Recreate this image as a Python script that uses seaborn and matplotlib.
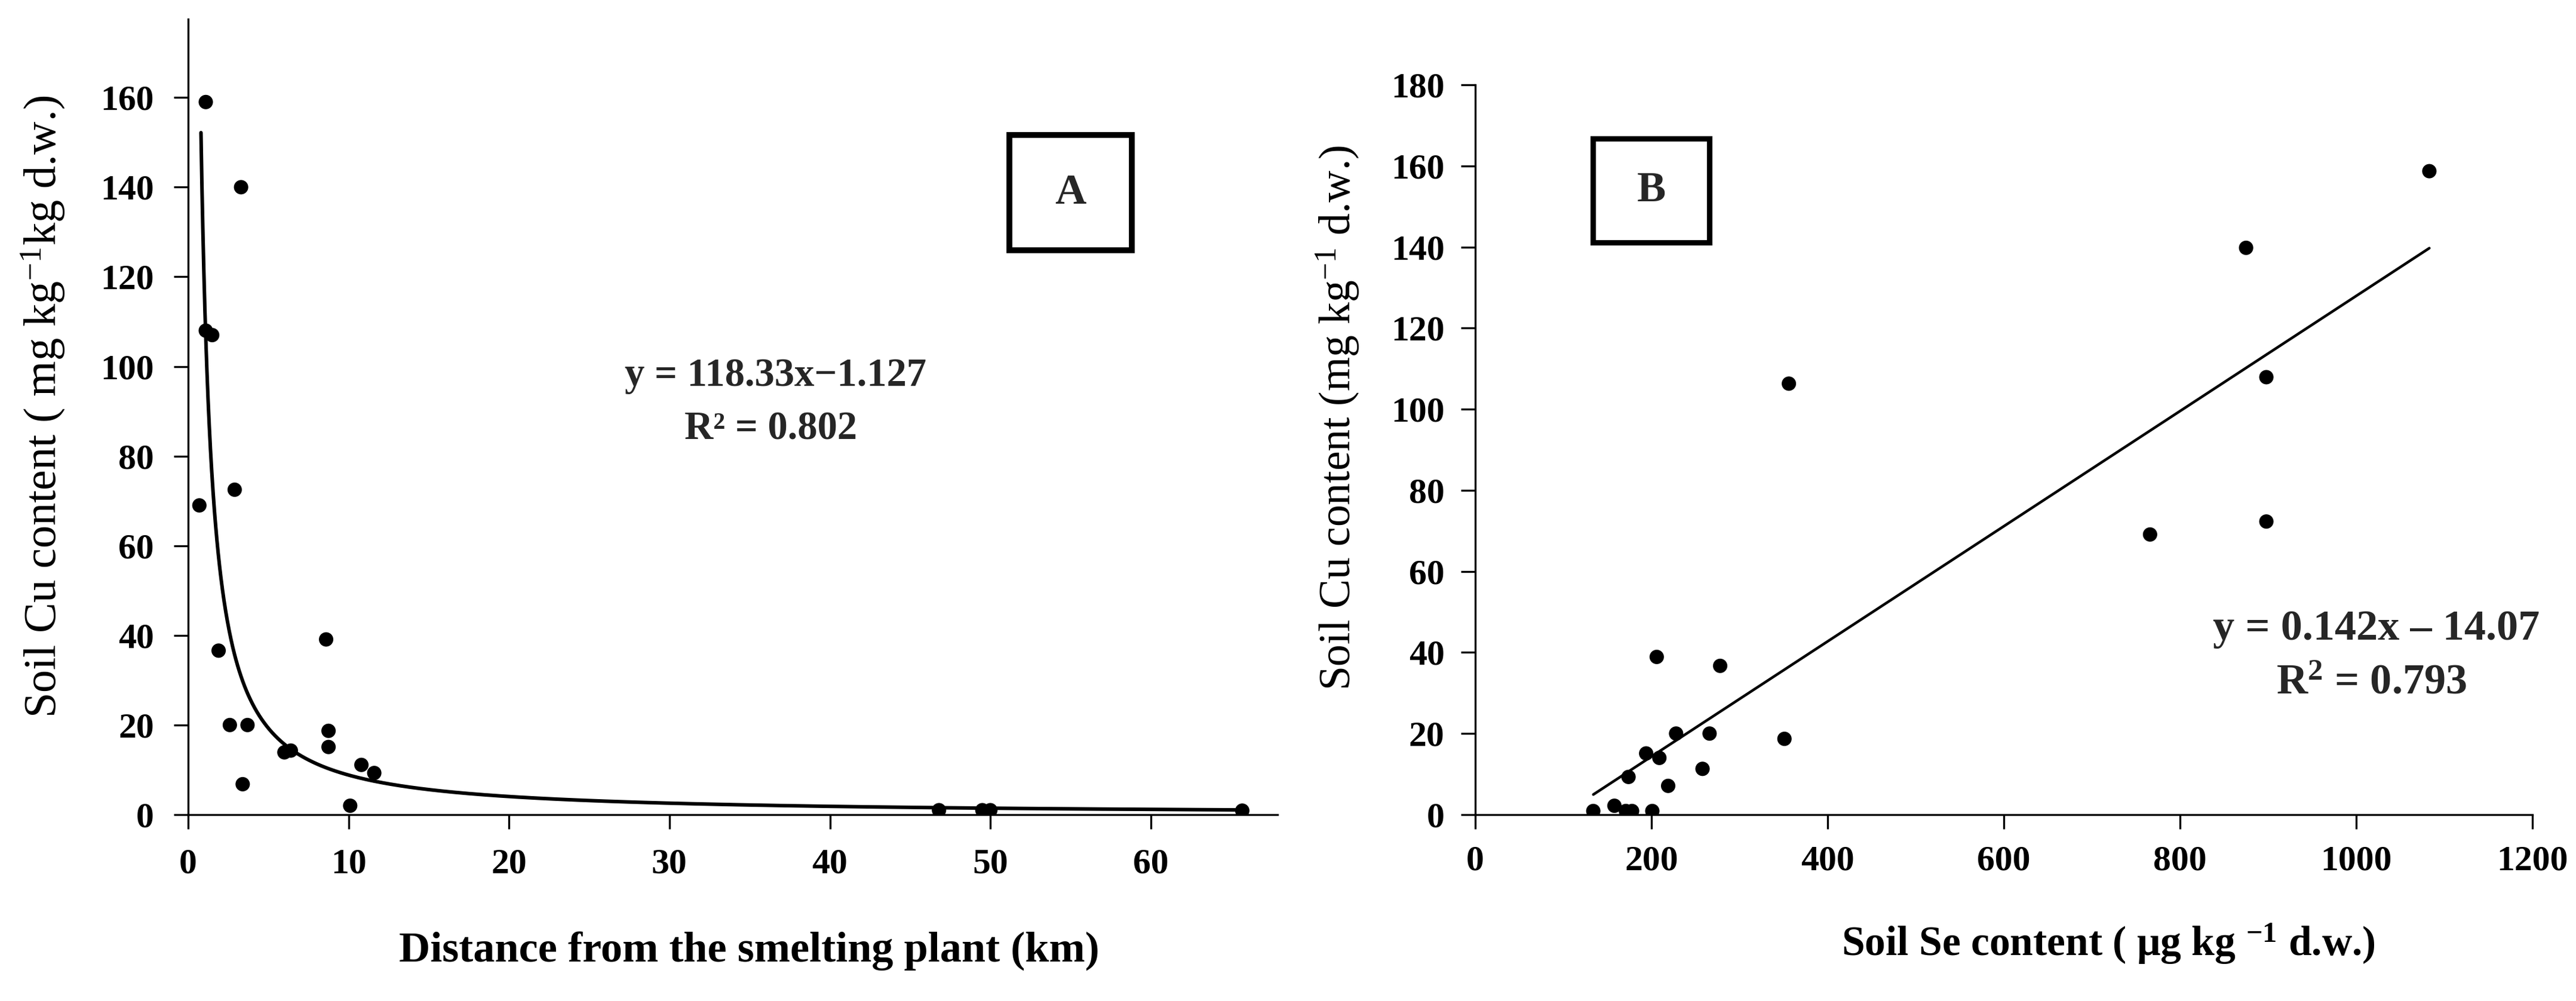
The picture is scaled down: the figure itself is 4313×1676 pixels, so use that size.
import numpy as np
import pandas as pd
import matplotlib
matplotlib.use("Agg")
import matplotlib.pyplot as plt
from matplotlib.patches import Rectangle
import seaborn as sns

# ---------------- data ----------------
# Panel A: distance from smelter (km) vs soil Cu (mg/kg)
dist_km = [1.1, 3.3, 1.1, 1.5, 0.7, 2.9, 1.9, 2.6, 3.7, 3.4, 6.0, 6.4,
           8.6, 8.75, 8.75, 10.8, 11.6, 10.1, 46.8, 49.5, 50.0, 65.7]
cu_a = [159, 140, 108, 107, 69, 72.5, 36.6, 20, 20, 6.8, 13.9, 14.3,
        39.1, 18.7, 15.1, 11.1, 9.3, 2.0, 1.0, 1.0, 1.0, 0.9]
# Panel B: soil Se (ug/kg) vs soil Cu (mg/kg)
se_ug = [1083, 875, 898, 898, 766, 356, 206, 278, 228, 266, 351,
         194, 209, 258, 174, 219, 134, 158, 171, 178, 201]
cu_b = [158.7, 139.8, 107.9, 72.3, 69.1, 106.3, 38.9, 36.7, 20, 20, 18.7,
        15.1, 14.0, 11.3, 9.3, 7.1, 0.9, 2.2, 0.9, 0.9, 0.9]

# fitted equations shown on the chart
pow_coef, pow_exp = 118.33, -1.127      # y = 118.33 x^-1.127
lin_slope, lin_icpt = 0.142, -14.07     # y = 0.142x - 14.07
fit_a_range = (0.8, 65.7)
fit_b_range = (134, 1083)

yticks_a = [0, 20, 40, 60, 80, 100, 120, 140, 160]
xticks_a = [0, 10, 20, 30, 40, 50, 60]
yticks_b = [0, 20, 40, 60, 80, 100, 120, 140, 160, 180]
xticks_b = [0, 200, 400, 600, 800, 1000, 1200]

# ---------------- style ----------------
sns.set_theme(style="white")
plt.rcParams["font.family"] = ["Liberation Serif", "DejaVu Serif"]
plt.rcParams["mathtext.fontset"] = "custom"
plt.rcParams["mathtext.rm"] = "Liberation Serif"
plt.rcParams["mathtext.it"] = "Liberation Serif:italic"
plt.rcParams["mathtext.bf"] = "Liberation Serif:bold"

W, H = 4313, 1676
fig = plt.figure(figsize=(W / 100, H / 100), dpi=100)
fig.patch.set_facecolor("white")

def ax_rect(l, r, t, b):
    return [l / W, 1 - b / H, (r - l) / W, (b - t) / H]

axA = fig.add_axes(ax_rect(315, 2139, 32, 1364))
axB = fig.add_axes(ax_rect(2470, 4240, 142, 1364))

dfa = pd.DataFrame({"dist": dist_km, "cu": cu_a})
dfb = pd.DataFrame({"se": se_ug, "cu": cu_b})

xa = np.geomspace(fit_a_range[0], fit_a_range[1], 400)
fita = pd.DataFrame({"x": xa, "y": pow_coef * xa ** pow_exp})
xb = np.linspace(fit_b_range[0], fit_b_range[1], 50)
fitb = pd.DataFrame({"x": xb, "y": lin_slope * xb + lin_icpt})

sns.lineplot(data=fita, x="x", y="y", ax=axA, color="black", lw=4.3, sort=False)
sns.scatterplot(data=dfa, x="dist", y="cu", ax=axA, color="black", s=300,
                edgecolor="none", zorder=3)
sns.lineplot(data=fitb, x="x", y="y", ax=axB, color="black", lw=3.2, sort=False)
sns.scatterplot(data=dfb, x="se", y="cu", ax=axB, color="black", s=300,
                edgecolor="none", zorder=3)

for ax in (axA, axB):
    sns.despine(ax=ax)
    for s in ("left", "bottom"):
        ax.spines[s].set_linewidth(2.4)
        ax.spines[s].set_color("black")
    ax.tick_params(axis="both", direction="out", length=17, width=2.4,
                   colors="black", labelsize=43, bottom=True, left=True)

axA.set_xlim(0, 67.9)
axA.set_ylim(0, 177.5)
axA.set_xticks(xticks_a)
axA.set_yticks(yticks_a)
axA.set_xticklabels([str(v) for v in xticks_a], fontweight="bold")
axA.set_yticklabels([str(v) for v in yticks_a], fontweight="bold")
axA.tick_params(axis="y", pad=24)
axA.tick_params(axis="x", pad=24)

axB.set_xlim(0, 1200)
axB.set_ylim(0, 180)
axB.set_xticks(xticks_b)
axB.set_yticks(yticks_b)
axB.set_xticklabels([str(v) for v in xticks_b], fontweight="bold")
axB.set_yticklabels([str(v) for v in yticks_b], fontweight="bold")
axB.tick_params(axis="y", pad=20)
axB.tick_params(axis="x", pad=20)

# axis labels
axA.set_xlabel("Distance from the smelting plant (km)", fontsize=52,
               fontweight="bold", color="black")
axA.xaxis.set_label_coords(0.515, -0.171)
axA.xaxis.label.set_va("center")
axA.set_ylabel(r"Soil Cu content ( mg kg$^{-1}$kg d.w.)", fontsize=55,
               color="black")
axA.yaxis.set_label_coords(-0.133, 0.513)
axA.yaxis.label.set_va("center")

axB.set_xlabel(r"Soil Se content ( $\mathbf{\mu}$g kg $^{\mathbf{-1}}$ d.w.)",
               fontsize=50, fontweight="bold", color="black")
axB.xaxis.set_label_coords(0.599, -0.177)
axB.xaxis.label.set_va("center")
axB.set_ylabel(r"Soil Cu content (mg kg$^{-1}$ d.w.)", fontsize=53,
               color="black")
axB.yaxis.set_label_coords(-0.130, 0.544)
axB.yaxis.label.set_va("center")

# boxes with panel letters
axA.add_patch(Rectangle((51.2, 125.9), 58.8 - 51.2, 151.6 - 125.9,
                        fill=True, facecolor="white", edgecolor="black",
                        lw=7, zorder=4))
axA.text(55.0, 138.7, "A", fontsize=52, fontweight="bold", ha="center",
         va="center", zorder=5)
axB.add_patch(Rectangle((133.8, 141.1), 265.5 - 133.8, 166.7 - 141.1,
                        fill=True, facecolor="white", edgecolor="black",
                        lw=6.5, zorder=4))
axB.text(199.6, 153.9, "B", fontsize=52, fontweight="bold", ha="center",
         va="center", zorder=5)

# equations
axA.text(36.6, 97.9, "y = 118.33x\u22121.127", fontsize=48, fontweight="bold",
         ha="center", va="center")
axA.text(36.3, 86.0, "R\u00b2 = 0.802", fontsize=48, fontweight="bold",
         ha="center", va="center")
axB.text(1022.8, 45.8, "y = 0.142x \u2013 14.07", fontsize=52,
         fontweight="bold", ha="center", va="center")
axB.text(1017.0, 32.4, r"R$^{\mathbf{2}}$ = 0.793", fontsize=52,
         fontweight="bold", ha="center", va="center")

fig.savefig("out.png", dpi=100, facecolor="white")
